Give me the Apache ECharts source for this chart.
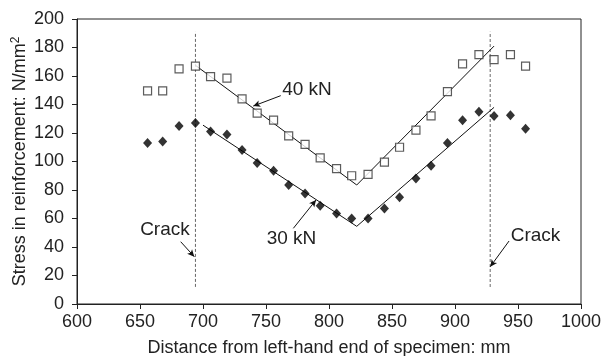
<!DOCTYPE html>
<html>
<head>
<meta charset="utf-8">
<script src="https://cdn.jsdelivr.net/npm/echarts@6/dist/echarts.min.js"></script>
<style>html,body{margin:0;padding:0;background:#fff}#c{width:602px;height:356px}</style>
</head>
<body>
<div id="c"></div>
<script>
// Data
var positions = [656, 668, 681, 694, 706, 719, 731, 743, 756, 768, 781, 793, 806, 818, 831, 844, 856, 869, 881, 894, 906, 919, 931, 944, 956];
var stress40 = [149.5, 149.5, 165, 167, 159.5, 158.5, 144, 134, 129, 118, 112, 102.5, 95, 90, 91, 99.5, 110, 122, 132, 149, 168.5, 175, 171.5, 175, 167];
var stress30 = [113, 114, 125, 127, 121, 119, 108, 99, 93.5, 83.5, 77.5, 69, 63.5, 60, 60, 67, 75, 88, 97, 113, 129, 135, 132, 132.5, 123];
var trend40X = [694, 822, 931];
var trend40Y = [167.5, 83.5, 181];
var trend30X = [700, 822, 931];
var trend30Y = [125.5, 54.5, 138];
var crackX = [694, 928];
var crackYRange = [12, 191];
var xTicks = {min: 600, max: 1000, interval: 50};
var yTicks = {min: 0, max: 200, interval: 20};

function zip(a, b) { return a.map(function (v, i) { return [v, b[i]]; }); }

var FONT = '"Liberation Sans", Arial, sans-serif';
var TXT = '#222';
var FS = 18;

var chart = echarts.init(document.getElementById('c'), null, {renderer: 'canvas'});

// annotation labels & arrows in data coordinates
var labels = [
  {text: '40 kN', at: [782.5, 150.2], arrow: [[761.7, 146.2], [739.9, 138.9]]},
  {text: '30 kN', at: [770.2, 45.6], arrow: [[771.7, 53.1], [789.7, 73]]},
  {text: 'Crack', at: [669.8, 52.1], arrow: [[682.3, 43.7], [693.1, 33.2]]},
  {text: 'Crack', at: [963.9, 48.1], arrow: [[942.9, 44.2], [928, 26.2]]}
];

var option = {
  animation: false,
  backgroundColor: '#fff',
  grid: {left: 77, right: 21, top: 19, bottom: 52, show: true, borderColor: '#222', borderWidth: 1,
    containLabel: false, outerBoundsMode: 'none'},
  xAxis: {
    type: 'value', min: xTicks.min, max: xTicks.max, interval: xTicks.interval,
    name: 'Distance from left-hand end of specimen: mm',
    nameLocation: 'middle', nameGap: 35, nameMoveOverlap: false,
    nameTextStyle: {fontFamily: FONT, fontSize: FS, color: TXT},
    axisLine: {show: true, lineStyle: {color: '#222', width: 1}},
    axisTick: {show: true, inside: false, length: 5, lineStyle: {color: '#222'}},
    axisLabel: {fontFamily: FONT, fontSize: FS, color: TXT, margin: 9,
      formatter: function (v) { return String(v); }},
    splitLine: {show: false}
  },
  yAxis: {
    type: 'value', min: yTicks.min, max: yTicks.max, interval: yTicks.interval,
    name: 'Stress in reinforcement: N/mm{sup|2}',
    nameLocation: 'middle', nameGap: 47, nameMoveOverlap: false,
    nameTextStyle: {fontFamily: FONT, fontSize: FS, color: TXT,
      rich: {sup: {fontFamily: FONT, fontSize: 12, color: TXT, verticalAlign: 'top', padding: [0, 0, 8, 0]}}},
    axisLine: {show: true, lineStyle: {color: '#222', width: 1}},
    axisTick: {show: true, inside: false, length: 5, lineStyle: {color: '#222'}},
    axisLabel: {fontFamily: FONT, fontSize: FS, color: TXT, margin: 13},
    splitLine: {show: false}
  },
  series: [
    {
      type: 'line', data: [[crackX[0], crackYRange[0]], [crackX[0], crackYRange[1]]],
      symbol: 'none', lineStyle: {color: '#666', width: 1, type: [3, 2]}, z: 1
    },
    {
      type: 'line', data: [[crackX[1], crackYRange[0]], [crackX[1], crackYRange[1]]],
      symbol: 'none', lineStyle: {color: '#999', width: 1.5, type: [3, 2]}, z: 1
    },
    {
      type: 'line', data: zip(trend40X, trend40Y), symbol: 'none',
      lineStyle: {color: '#111', width: 1}, z: 2
    },
    {
      type: 'line', data: zip(trend30X, trend30Y), symbol: 'none',
      lineStyle: {color: '#111', width: 1}, z: 2
    },
    {
      name: '40 kN', type: 'scatter', data: zip(positions, stress40),
      symbol: 'rect', symbolSize: 8,
      itemStyle: {color: '#fff', borderColor: '#333', borderWidth: 1.2}, z: 3
    },
    {
      name: '30 kN', type: 'scatter', data: zip(positions, stress30),
      symbol: 'diamond', symbolSize: [9, 10],
      itemStyle: {color: '#000'}, z: 3
    },
    {
      type: 'line', data: [], symbol: 'none',
      markLine: {
        silent: true, symbol: ['none', 'arrow'], symbolSize: [5, 7],
        label: {show: false},
        lineStyle: {color: '#111', width: 1, type: 'solid'},
        data: labels.map(function (l) {
          return [{coord: l.arrow[0]}, {coord: l.arrow[1]}];
        })
      }
    }
  ]
};
chart.setOption(option);

var g = labels.map(function (l) {
  var p = chart.convertToPixel({gridIndex: 0}, l.at);
  return {
    type: 'text', x: p[0], y: p[1], z: 10,
    style: {text: l.text, fontFamily: FONT, fontSize: FS + 1, fill: TXT, align: 'center', verticalAlign: 'middle'}
  };
});
chart.setOption({graphic: g});
</script>
</body>
</html>
